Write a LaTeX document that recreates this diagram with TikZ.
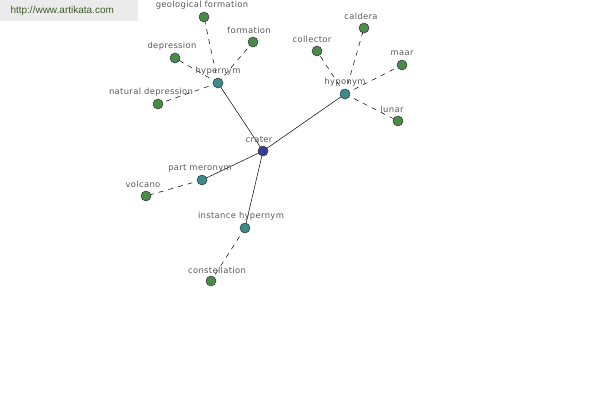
\documentclass[tikz,border=0pt]{standalone}
\usepackage{fontspec}
\setmainfont{Liberation Sans}
\newfontfamily\lblfont[LetterSpace=4]{DejaVu Sans}
\definecolor{leafc}{HTML}{4A8A4A}
\definecolor{relc}{HTML}{3C8C8C}
\definecolor{cenc}{HTML}{3C3C96}
\definecolor{sitec}{HTML}{3D5A2A}
\begin{document}
\begin{tikzpicture}[x=1pt,y=-1pt,
  dot/.style={circle,draw=black!80,line width=0.5pt,minimum size=10pt,inner sep=0pt},
  leaf/.style={dot,fill=leafc},
  rel/.style={dot,fill=relc},
  center/.style={dot,fill=cenc},
  lbl/.style={font=\lblfont\fontsize{8.4}{9}\selectfont,text=black!65,inner sep=0pt},
  dsh/.style={dash pattern=on 5pt off 5pt,line width=0.5pt},
  sld/.style={line width=0.5pt}]
\useasboundingbox (0,0) rectangle (600,400);
\fill[black!8] (0,0) rectangle (138,21);
\node[font=\fontsize{10}{12}\selectfont,text=sitec,anchor=west] (site) at (7,11) {http://www.artikata.com};
% edges first
\coordinate (c) at (263,151);
\coordinate (hyper) at (218,83);
\coordinate (hypo) at (345,94);
\coordinate (part) at (202,180);
\coordinate (inst) at (245,228);
\coordinate (geo) at (204,17);
\coordinate (form) at (253,42);
\coordinate (dep) at (175,58);
\coordinate (nat) at (158,104);
\coordinate (coll) at (317,51);
\coordinate (cald) at (364,28);
\coordinate (maar) at (402,65);
\coordinate (lun) at (398,121);
\coordinate (volc) at (146,196);
\coordinate (cons) at (211,281);
\draw[sld] (c) -- (hyper) (c) -- (hypo) (c) -- (part) (c) -- (inst);
\draw[dsh] (hyper) -- (geo) (hyper) -- (form) (hyper) -- (dep) (hyper) -- (nat);
\draw[dsh] (hypo) -- (coll) (hypo) -- (cald) (hypo) -- (maar) (hypo) -- (lun);
\draw[dsh] (part) -- (volc) (inst) -- (cons);
% nodes
\node[center] (nc) at (c) {};
\node[rel] (nhyper) at (hyper) {};
\node[rel] (nhypo) at (hypo) {};
\node[rel] (npart) at (part) {};
\node[rel] (ninst) at (inst) {};
\foreach \n in {geo,form,dep,nat,coll,cald,maar,lun,volc,cons} {\node[leaf] (n\n) at (\n) {};}
% labels
\node[lbl] (lc) at (259,140) {crater};
\node[lbl] (lhyper) at (218,71) {hypernym};
\node[lbl] (lhypo) at (345,82) {hyponym};
\node[lbl] (lpart) at (200,168) {part meronym};
\node[lbl] (linst) at (241,216) {instance hypernym};
\node[lbl] (lgeo) at (202,5) {geological formation};
\node[lbl] (lform) at (249,30) {formation};
\node[lbl] (ldep) at (172,46) {depression};
\node[lbl] (lnat) at (151,92) {natural depression};
\node[lbl] (lcoll) at (312,39) {collector};
\node[lbl] (lcald) at (361,16) {caldera};
\node[lbl] (lmaar) at (402,53) {maar};
\node[lbl] (llun) at (392,109) {lunar};
\node[lbl] (lvolc) at (143,184) {volcano};
\node[lbl] (lcons) at (217,270) {constellation};
\end{tikzpicture}
\end{document}
